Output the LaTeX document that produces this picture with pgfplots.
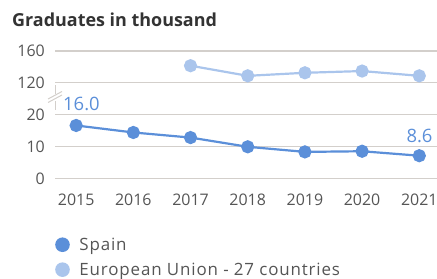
\documentclass[border=0pt]{standalone}
\usepackage{fontspec}
\setmainfont{Open Sans}
\newfontfamily\legfont[LetterSpace=5.0]{Open Sans}
\usepackage{pgfplots}
\pgfplotsset{compat=1.18}
\definecolor{spain}{HTML}{5B8FD9}
\definecolor{eu}{HTML}{AAC5EC}
\definecolor{gridc}{HTML}{D3CFCB}
\definecolor{txt}{HTML}{555555}
\definecolor{ttl}{HTML}{333333}
\begin{document}
\begin{tikzpicture}[x=1bp,y=1bp]
\begin{axis}[
  at={(55bp,99.7bp)}, anchor=south west,
  scale only axis, width=382bp, height=127.3bp,
  xmin=2014.63, xmax=2021.31,
  y coord trafo/.code={\pgfmathparse{ifthenelse(#1<=20,#1/10,3+(#1-120)/40)}},
  y coord inv trafo/.code={\pgfmathparse{ifthenelse(#1<=2,#1*10,120+(#1-3)*40)}},
  ymin=0, ymax=160,
  ytick={0,10,20,120,160},
  yticklabels={0,10,20,120,160},
  xtick={2015,2016,2017,2018,2019,2020,2021},
  xticklabels={2015,2016,2017,2018,2019,2020,2021},
  axis line style={draw=none},
  major tick length=0pt,
  ymajorgrids, grid style={gridc, line width=1.2bp},
  ticklabel style={font=\fontsize{16}{18}\selectfont, text=txt},
  yticklabel style={anchor=base east, xshift=-10bp, yshift=-5.7bp, inner sep=0pt},
  xticklabel style={anchor=base, yshift=-27.2bp, inner sep=0pt},
  clip=false,
  legend style={at={(axis description cs:0.0,-0.45)}, anchor=north west, draw=none, fill=none,
    font=\legfont\fontsize{17}{18}\selectfont, text=txt, inner sep=0pt, row sep=7bp,
    cells={anchor=west}},
  legend image code/.code={\fill[draw=none] (0bp,0bp) circle (7.3bp); \path[draw=none, fill=none] (7.3bp,0bp) -- (15bp,0bp);},
]
\addplot[spain, line width=2.2bp, mark=*, mark size=5.5bp, mark options={draw=none, fill=spain}]
  coordinates {(2015,16.6) (2016,14.4) (2017,12.8) (2018,9.9) (2019,8.3) (2020,8.5) (2021,7.1)};
\addlegendentry{Spain}
\addplot[eu, line width=2.2bp, mark=*, mark size=5.5bp, mark options={draw=none, fill=eu}]
  coordinates {(2017,141.5) (2018,128.8) (2019,132.6) (2020,134.8) (2021,128.8)};
\addlegendentry{European Union - 27 countries}
\end{axis}
% break mark on y axis
\draw[gridc, line width=1bp] (55,193) -- (55,184);
\draw[gridc, line width=1bp] (55,177) -- (55,168);
\fill[white] (48,176) -- (62,183.5) -- (62,187) -- (48,179.5) -- cycle;
\draw[gridc, line width=1bp] (48,175.5) -- (62,183);
\draw[gridc, line width=1bp] (48,179) -- (62,186.5);
% title
\node[anchor=base west, inner sep=0pt, font=\bfseries\fontsize{18}{20}\selectfont, text=ttl] at (12,251.3) {Graduates in thousand};
% value labels
\node[anchor=base west, inner sep=0pt, font=\fontsize{18.5}{21}\selectfont, text=spain] at (63,168) {16.0};
\node[anchor=base, inner sep=0pt, font=\fontsize{18.5}{21}\selectfont, text=spain] at (419.5,136) {8.6};
\pgfresetboundingbox
\path[use as bounding box] (0,0) rectangle (437,278);
\end{tikzpicture}
\end{document}
